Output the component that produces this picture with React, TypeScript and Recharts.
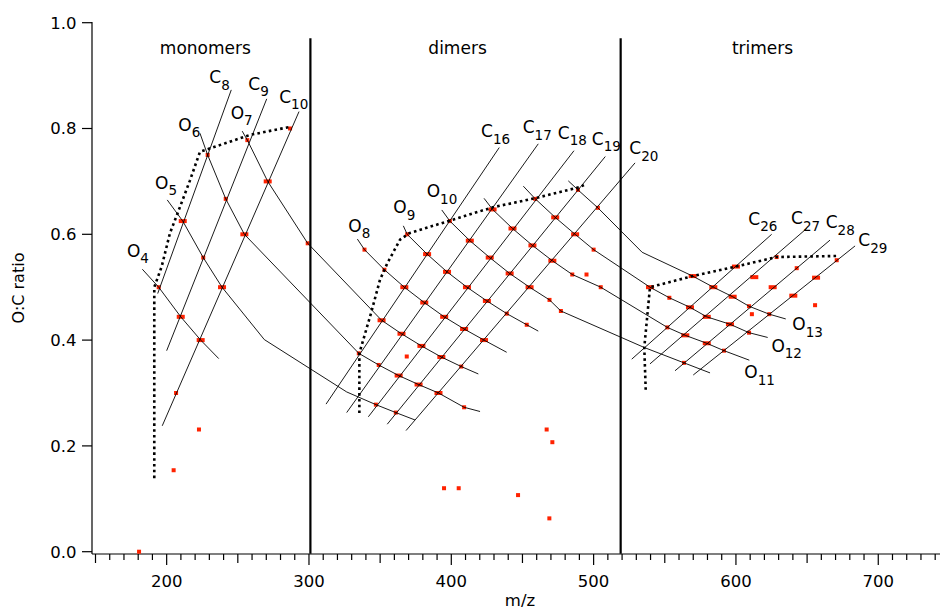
import React from 'react';
import { ScatterChart, Scatter, XAxis, YAxis } from 'recharts';

type P = { mz: number; oc: number };
type L = { mz: number; oc: number; main: string; sub: string };
type T = { mz: number; oc: number; text: string };

const pts = (a: number[][]): P[] => a.map(([mz, oc]) => ({ mz, oc }));

// ---- red data points ----
const singlePoints: P[] = pts([
  [286.7, 0.8], [256.7, 0.778], [228.8, 0.75], [241.5, 0.667], [225.7, 0.556], [299.1, 0.583],
  [194.4, 0.5], [206.6, 0.3], [222.7, 0.231], [204.9, 0.154], [180.6, 0.0],
  [339, 0.571], [353, 0.533], [369, 0.6], [399, 0.625], [335, 0.375], [349, 0.353], [347, 0.278],
  [361, 0.263], [439, 0.45], [407, 0.35], [459, 0.667], [489, 0.684], [503, 0.65], [453, 0.429],
  [469, 0.476], [485, 0.524], [500, 0.571], [477, 0.455], [505, 0.5], [495, 0.524], [368.7, 0.369],
  [409, 0.273], [467, 0.231], [471, 0.207], [394.9, 0.12], [405.2, 0.12], [446.9, 0.107], [468.9, 0.063],
  [553.2, 0.48], [551.8, 0.424], [628.6, 0.557], [563.5, 0.357], [609.2, 0.464], [642.7, 0.536],
  [591.6, 0.38], [609.2, 0.414], [623.4, 0.449], [670.8, 0.551], [611.2, 0.449], [655.6, 0.466],
]);

const widePoints: P[] = pts([
  [271, 0.7], [211.3, 0.625], [254.6, 0.6], [238.9, 0.5], [209.9, 0.444], [223.9, 0.4],
  [383, 0.5625], [367, 0.5], [351, 0.4375], [413, 0.588], [397, 0.529], [381, 0.471], [365, 0.412],
  [429, 0.647], [443, 0.611], [427, 0.556], [411, 0.5], [395, 0.444], [379, 0.389], [363, 0.333],
  [473, 0.632], [457, 0.579], [441, 0.526], [425, 0.474], [409, 0.421], [393, 0.368], [377, 0.316],
  [487, 0.6], [471, 0.55], [455, 0.5], [423, 0.4], [391, 0.3],
  [539.6, 0.5], [569.6, 0.521], [567.7, 0.462], [584.1, 0.5], [600, 0.539], [564.4, 0.409],
  [579.5, 0.444], [597.7, 0.482], [612.9, 0.519], [579.5, 0.394], [595.8, 0.43], [625.8, 0.5],
  [640.3, 0.484], [656.3, 0.518],
]);

// ---- constant-carbon lines ----
const c8Line = pts([[193.7, 0.488], [245.4, 0.873]]);
const c9Line = pts([[200, 0.38], [270.3, 0.856]]);
const c10Line = pts([[196.9, 0.238], [293, 0.832]]);
const c16Line = pts([[312, 0.279], [433.7, 0.764]]);
const c17Line = pts([[326.5, 0.263], [461.1, 0.771]]);
const c18Line = pts([[341.7, 0.255], [486.2, 0.758]]);
const c19Line = pts([[355, 0.241], [508.2, 0.747]]);
const c20Line = pts([[368.2, 0.229], [529.1, 0.735]]);
const c26Line = pts([[526.8, 0.364], [625.1, 0.6]]);
const c27Line = pts([[539.6, 0.355], [649.7, 0.611]]);
const c28Line = pts([[557.2, 0.342], [666.1, 0.589]]);
const c29Line = pts([[570, 0.334], [683.7, 0.578]]);

// ---- constant-oxygen lines ----
const o4Line = pts([[182.9, 0.534], [194.4, 0.5], [209.9, 0.444], [223.9, 0.4], [236.6, 0.365]]);
const o5Line = pts([[200.4, 0.665], [211.3, 0.625], [225.7, 0.556], [238.9, 0.5], [268.6, 0.401], [326.5, 0.302], [347, 0.278], [361, 0.263], [374.5, 0.249]]);
const o6Line = pts([[223.4, 0.791], [228.8, 0.75], [241.5, 0.667], [254.6, 0.6], [335, 0.375], [349, 0.353], [363, 0.333], [377, 0.316], [391, 0.3], [409, 0.273], [420.2, 0.265]]);
const o7Line = pts([[253.1, 0.795], [256.7, 0.778], [271, 0.7], [299.1, 0.583], [351, 0.4375], [365, 0.412], [379, 0.389], [393, 0.368], [407, 0.35], [419, 0.336]]);
const o8Line = pts([[334, 0.591], [339, 0.571], [353, 0.533], [367, 0.5], [381, 0.471], [395, 0.444], [409, 0.421], [423, 0.4], [438.9, 0.377]]);
const o9Line = pts([[366.3, 0.616], [369, 0.6], [383, 0.5625], [397, 0.529], [411, 0.5], [425, 0.474], [439, 0.45], [453, 0.429], [461.1, 0.417]]);
const o10Line = pts([[393.3, 0.646], [399, 0.625], [413, 0.588], [427, 0.556], [441, 0.526], [455, 0.5], [469, 0.476], [477, 0.455], [535.6, 0.386], [563.5, 0.357], [581.8, 0.338]]);
const o11Line = pts([[423, 0.668], [429, 0.647], [443, 0.611], [457, 0.579], [471, 0.55], [485, 0.524], [505, 0.5], [551.8, 0.424], [564.4, 0.409], [579.5, 0.394], [591.6, 0.38], [609.4, 0.362]]);
const o12Line = pts([[450.6, 0.691], [459, 0.667], [473, 0.632], [487, 0.6], [500, 0.571], [539.6, 0.5], [553.2, 0.48], [567.7, 0.462], [579.5, 0.444], [595.8, 0.43], [609.2, 0.414], [622.3, 0.405]]);
const o13Line = pts([[482.2, 0.701], [489, 0.684], [503, 0.65], [534.1, 0.566], [569.6, 0.521], [584.1, 0.5], [597.7, 0.482], [609.2, 0.464], [623.4, 0.449], [635, 0.44]]);

// ---- dotted envelopes ----
const monomerEdge = pts([[191.3, 0.139], [191.3, 0.5], [196.5, 0.539], [202.3, 0.602], [209.4, 0.652], [216.4, 0.702], [223.4, 0.756], [258.7, 0.788], [286.7, 0.803]]);
const dimerEdge = pts([[335.4, 0.262], [335.4, 0.375], [343.6, 0.451], [349.9, 0.514], [355, 0.545], [364, 0.59], [370.5, 0.602], [400.3, 0.627], [429.1, 0.651], [460, 0.669], [489.9, 0.689], [493.2, 0.693]]);
const trimerEdge = pts([[536.6, 0.306], [535.6, 0.386], [539.6, 0.5], [569.6, 0.521], [600, 0.539], [628.6, 0.557], [670.8, 0.559]]);

// ---- region boundaries ----
const boundaryA = pts([[301, -0.004], [301, 0.9705]]);
const boundaryB = pts([[519, -0.004], [519, 0.9705]]);

// ---- labels ----
const lineLabels: L[] = [
  { mz: 230, oc: 0.8855, main: 'C', sub: '8' },
  { mz: 257.4, oc: 0.873, main: 'C', sub: '9' },
  { mz: 279.1, oc: 0.849, main: 'C', sub: '10' },
  { mz: 208.2, oc: 0.796, main: 'O', sub: '6' },
  { mz: 245.0, oc: 0.818, main: 'O', sub: '7' },
  { mz: 191.8, oc: 0.686, main: 'O', sub: '5' },
  { mz: 172.1, oc: 0.558, main: 'O', sub: '4' },
  { mz: 420.9, oc: 0.783, main: 'C', sub: '16' },
  { mz: 450.2, oc: 0.791, main: 'C', sub: '17' },
  { mz: 474.8, oc: 0.781, main: 'C', sub: '18' },
  { mz: 498.7, oc: 0.769, main: 'C', sub: '19' },
  { mz: 525.1, oc: 0.751, main: 'C', sub: '20' },
  { mz: 382.7, oc: 0.67, main: 'O', sub: '10' },
  { mz: 359.2, oc: 0.64, main: 'O', sub: '9' },
  { mz: 327.6, oc: 0.605, main: 'O', sub: '8' },
  { mz: 608.7, oc: 0.618, main: 'C', sub: '26' },
  { mz: 638.7, oc: 0.619, main: 'C', sub: '27' },
  { mz: 663.1, oc: 0.611, main: 'C', sub: '28' },
  { mz: 686.0, oc: 0.577, main: 'C', sub: '29' },
  { mz: 639.6, oc: 0.419, main: 'O', sub: '13' },
  { mz: 624.9, oc: 0.378, main: 'O', sub: '12' },
  { mz: 605.9, oc: 0.328, main: 'O', sub: '11' },
];

const regionTitles: T[] = [
  { mz: 227.2, oc: 0.9403, text: 'monomers' },
  { mz: 404.4, oc: 0.9403, text: 'dimers' },
  { mz: 618.7, oc: 0.9403, text: 'trimers' },
];

const xTicks = [150, 160, 170, 180, 190, 200, 210, 220, 230, 240, 250, 260, 270, 280, 290, 300, 310, 320, 330, 340, 350, 360, 370, 380, 390, 400, 410, 420, 430, 440, 450, 460, 470, 480, 490, 500, 510, 520, 530, 540, 550, 560, 570, 580, 590, 600, 610, 620, 630, 640, 650, 660, 670, 680, 690, 700, 710, 720, 730, 740];
const yTicks = [0, 0.2, 0.4, 0.6, 0.8, 1.0];

const FONT = "'DejaVu Sans', Verdana, sans-serif";
const RED = '#ff2200';

const SmallDot = (p: any) => <rect x={p.cx - 2} y={p.cy - 2} width={4} height={4} fill={RED} />;
const WideDot = (p: any) => <rect x={p.cx - 4} y={p.cy - 2} width={8} height={4} fill={RED} />;
const NoShape = () => <g />;

const LabelShape = (p: any) => {
  const d = p.payload || p;
  return (
    <text x={p.cx} y={p.cy} fontSize={17} fontFamily={FONT} fill="#000">
      {d.main}
      <tspan dy={6.5} fontSize={13.5}>{d.sub}</tspan>
    </text>
  );
};

const TitleShape = (p: any) => {
  const d = p.payload || p;
  return (
    <text x={p.cx} y={p.cy} fontSize={17} fontFamily={FONT} fill="#000" textAnchor="middle">
      {d.text}
    </text>
  );
};

const XTick = (p: any) => {
  const v = p.payload.value;
  const len = v % 100 === 0 ? 11 : v % 50 === 0 ? 9 : 6;
  return (
    <g>
      <line x1={p.x} x2={p.x} y1={p.y} y2={p.y + len} stroke="#000" strokeWidth={1.2} />
      {v % 100 === 0 && (
        <text x={p.x} y={p.y + 32.7} textAnchor="middle" fontSize={16.5} fontFamily={FONT} fill="#000">
          {v}
        </text>
      )}
    </g>
  );
};

const YTick = (p: any) => {
  const v = p.payload.value;
  return (
    <g>
      <line x1={p.x - 10} x2={p.x} y1={p.y} y2={p.y} stroke="#000" strokeWidth={1.2} />
      <text x={p.x - 15.5} y={p.y + 6} textAnchor="end" fontSize={16.5} fontFamily={FONT} fill="#000">
        {Number(v).toFixed(1)}
      </text>
    </g>
  );
};

const gridLines = [c8Line, c9Line, c10Line, c16Line, c17Line, c18Line, c19Line, c20Line, c26Line, c27Line, c28Line, c29Line,
  o4Line, o5Line, o6Line, o7Line, o8Line, o9Line, o10Line, o11Line, o12Line, o13Line];
const edges = [monomerEdge, dimerEdge, trimerEdge];
const boundaries = [boundaryA, boundaryB];

export default function App() {
  return (
    <div style={{ position: 'absolute', left: 0, top: 0, background: '#fff' }}>
      <ScatterChart width={940} height={612} margin={{ top: 22, right: 0, bottom: 0, left: 0 }}>
        <XAxis
          type="number"
          dataKey="mz"
          domain={[147.54, 743.38]}
          ticks={xTicks}
          interval={0}
          tick={XTick}
          tickLine={false}
          tickSize={0}
          tickMargin={0}
          height={58}
          axisLine={{ stroke: '#000', strokeWidth: 1.2 }}
          label={{
            content: () => (
              <text x={520} y={606} textAnchor="middle" fontSize={16.5} fontFamily={FONT} fill="#000">m/z</text>
            ),
          }}
        />
        <YAxis
          type="number"
          dataKey="oc"
          domain={[-0.00435, 1.00132]}
          ticks={yTicks}
          interval={0}
          tick={YTick}
          tickLine={false}
          tickSize={0}
          tickMargin={0}
          width={92}
          axisLine={{ stroke: '#000', strokeWidth: 1.2 }}
          label={{
            content: () => (
              <text x={24} y={288} transform="rotate(-90 24 288)" textAnchor="middle" fontSize={16} fontFamily={FONT} fill="#000">O:C ratio</text>
            ),
          }}
        />
        <Scatter data={singlePoints} shape={SmallDot} isAnimationActive={false} />
        <Scatter data={widePoints} shape={WideDot} isAnimationActive={false} />
        {gridLines.map((d, i) => (
          <Scatter key={'g' + i} data={d} shape={NoShape} fill="#000" line={{ stroke: '#000', strokeWidth: 0.9 }} isAnimationActive={false} />
        ))}
        {edges.map((d, i) => (
          <Scatter key={'e' + i} data={d} shape={NoShape} fill="#000" line={{ stroke: '#000', strokeWidth: 2.6, strokeDasharray: '2.6 3.2' }} isAnimationActive={false} />
        ))}
        {boundaries.map((d, i) => (
          <Scatter key={'b' + i} data={d} shape={NoShape} fill="#000" line={{ stroke: '#000', strokeWidth: 2.2 }} isAnimationActive={false} />
        ))}
        <Scatter data={lineLabels} shape={LabelShape} isAnimationActive={false} />
        <Scatter data={regionTitles} shape={TitleShape} isAnimationActive={false} />
      </ScatterChart>
    </div>
  );
}
